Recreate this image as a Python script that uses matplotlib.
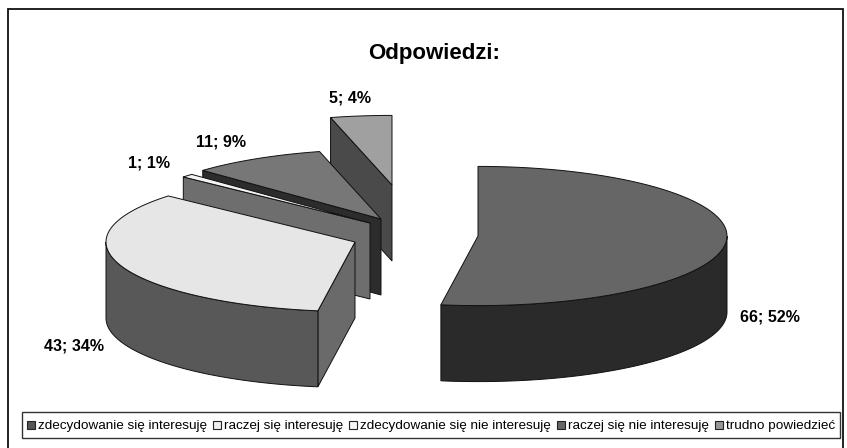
import numpy as np
import matplotlib
matplotlib.use('Agg')
import matplotlib.pyplot as plt
from matplotlib.patches import Polygon, Rectangle

plt.rcParams['font.family'] = ['Liberation Sans', 'DejaVu Sans']

categories = ['zdecydowanie się interesuję', 'raczej się interesuję', 'zdecydowanie się nie interesuję',
              'raczej się nie interesuję', 'trudno powiedzieć']
values = [66, 43, 1, 11, 5]
percents = [52, 34, 1, 9, 4]

# look of each slice: top, rim, cut face
top_colors = ['#666666', '#e6e6e6', '#f4f4f4', '#777777', '#a0a0a0']
rim_colors = ['#2a2a2a', '#585858', '#6e6e6e', '#333333', '#4a4a4a']
cut_colors = ['#2a2a2a', '#6a6a6a', '#6e6e6e', '#2c2c2c', '#4a4a4a']
legend_colors = ['#555555', '#eeeeee', '#f6f6f6', '#666666', '#999999']

# exploded centres, pixels
centres = [(478, 236), (355, 242), (370, 223), (381, 219), (392, 185)]
label_pos = [(770, 317), (74, 346), (149, 163), (221, 142), (350, 98)]
rx, ry, depth = 249, 69.6, 76


def rim_xy(c, a):
    return c[0] + rx * np.sin(a), c[1] - ry * np.cos(a)


fig = plt.figure(figsize=(8.47, 4.48), dpi=100)
ax = fig.add_axes([0, 0, 1, 1])
ax.set_xlim(0, 847)
ax.set_ylim(448, 0)
ax.axis('off')

# frame runs off the bottom of the picture
ax.add_patch(Rectangle((7.5, 9.5), 835.5, 500, fc='white', ec='#111111', lw=1.3))

edges = np.radians(np.cumsum([0] + values) / sum(values) * 360)
for i in [4, 3, 2, 1, 0]:  # back to front
    c = centres[i]
    a0, a1 = edges[i], edges[i + 1]
    x0, y0 = rim_xy(c, a0)
    x1, y1 = rim_xy(c, a1)

    # cut faces that look towards the viewer
    if np.cos(a0 - np.pi / 2) < 0:
        ax.add_patch(Polygon([c, (x0, y0), (x0, y0 + depth), (c[0], c[1] + depth)],
                             fc=cut_colors[i], ec='#111111', lw=0.7))
    if np.cos(a1 + np.pi / 2) < 0:
        ax.add_patch(Polygon([c, (x1, y1), (x1, y1 + depth), (c[0], c[1] + depth)],
                             fc=cut_colors[i], ec='#111111', lw=0.7))

    # outer wall, front half only
    lo, hi = max(a0, np.pi / 2), min(a1, 3 * np.pi / 2)
    if lo < hi:
        t = np.linspace(lo, hi, 80)
        xs, ys = rim_xy(c, t)
        wall = np.column_stack([np.r_[xs, xs[::-1]], np.r_[ys, ys[::-1] + depth]])
        ax.add_patch(Polygon(wall, fc=rim_colors[i], ec='#111111', lw=0.7))

    t = np.linspace(a0, a1, 80)
    xs, ys = rim_xy(c, t)
    ax.add_patch(Polygon(np.column_stack([np.r_[c[0], xs], np.r_[c[1], ys]]),
                         fc=top_colors[i], ec='#111111', lw=0.7))

ax.text(434, 54, 'Odpowiedzi:', fontsize=16, fontweight='bold', ha='center', va='center')

for v, p, pos in zip(values, percents, label_pos):
    ax.text(pos[0], pos[1], f'{v}; {p}%', fontsize=11.5, fontweight='bold', ha='center', va='center')

# legend strip
ax.add_patch(Rectangle((21.5, 412.5), 818.5, 25.5, fc='white', ec='#333333', lw=1))
x = 27
gap = 6
r = fig.canvas.get_renderer()
for name, col in zip(categories, legend_colors):
    ax.add_patch(Rectangle((x, 421), 8, 8, fc=col, ec='#222222', lw=0.8))
    t = ax.text(x + 11, 425.5, name, fontsize=9.7, ha='left', va='center')
    x = t.get_window_extent(r).x1 + gap

fig.savefig('out.png', dpi=100)
